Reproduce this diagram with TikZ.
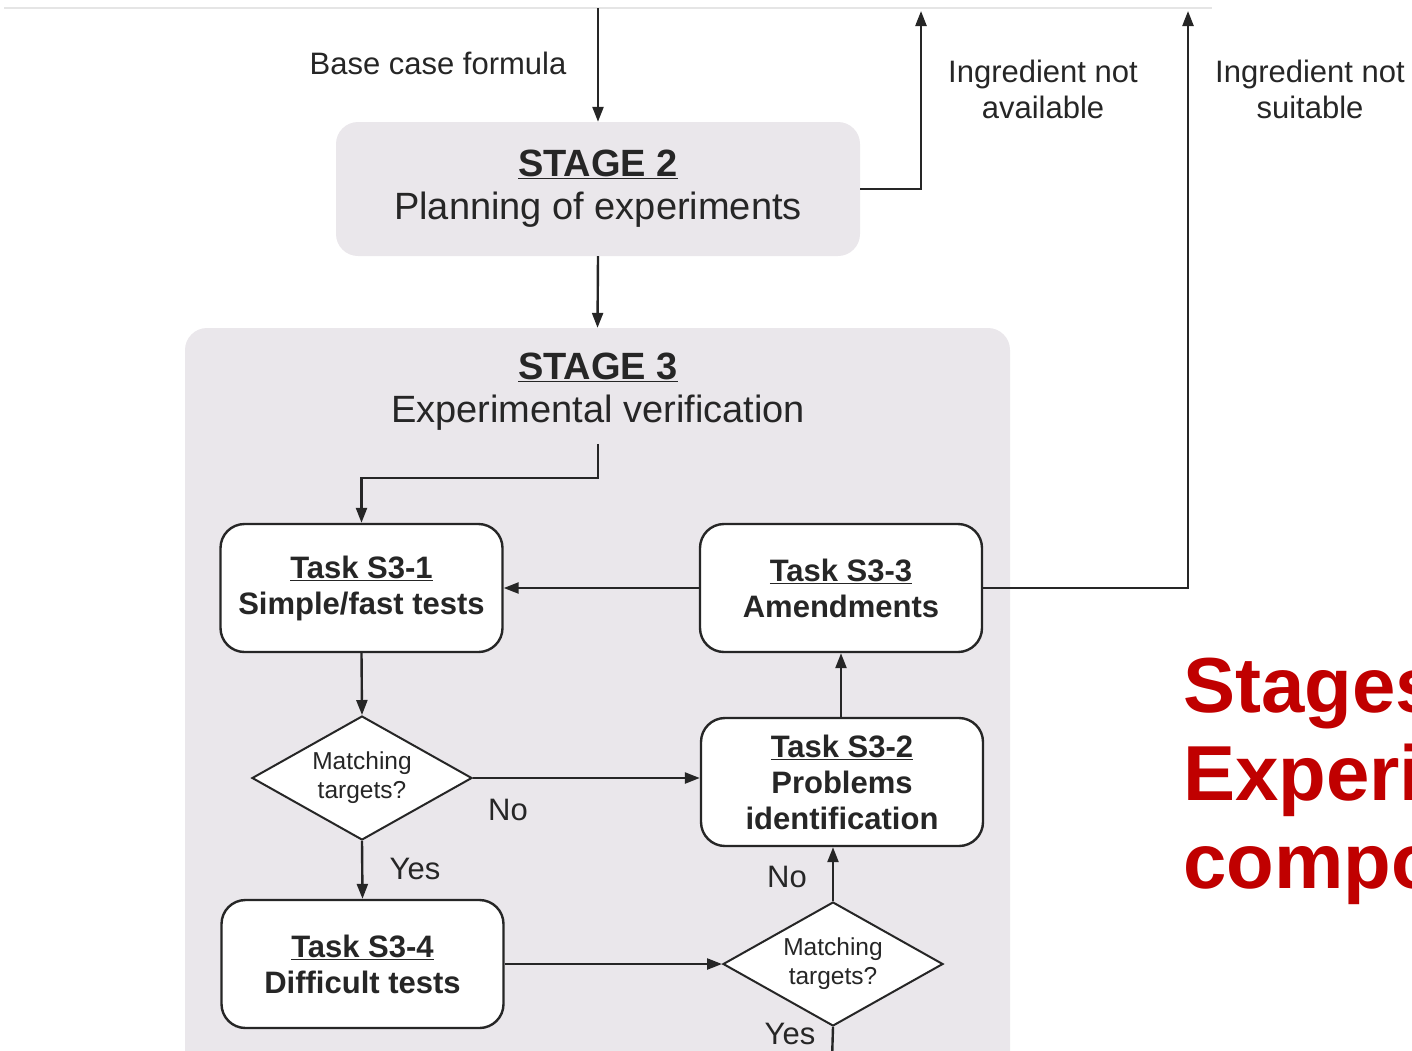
\documentclass[tikz,border=0pt]{standalone}
\usepackage{fontspec}
\setmainfont{Liberation Sans}
\usetikzlibrary{shapes.geometric,arrows.meta,positioning,calc}
\definecolor{stagegray}{HTML}{EAE7EB}
\definecolor{inkdark}{HTML}{262626}
\definecolor{titlered}{HTML}{C00000}

\begin{document}
\begin{tikzpicture}[x=1pt, y=-1pt,
  stage/.style={rectangle, rounded corners=22pt, fill=stagegray, draw=none, align=center,
                text=inkdark, font=\fontsize{38}{43}\selectfont},
  task/.style={rectangle, rounded corners=24pt, draw=inkdark, line width=2.4pt, fill=white,
               minimum width=282pt, minimum height=128pt, align=center,
               font=\fontsize{31}{36}\selectfont\bfseries, text=inkdark},
  decide/.style={diamond, aspect=1.8, draw=inkdark, line width=2pt, fill=white, inner sep=0pt,
                 minimum width=220pt, minimum height=124pt, align=center,
                 font=\fontsize{24.5}{29}\selectfont, text=inkdark},
  note/.style={font=\fontsize{31}{36}\selectfont, text=inkdark, align=center},
  flow/.style={draw=inkdark, line width=2.4pt, -{Triangle[length=15pt,width=11pt]}},
  wire/.style={draw=inkdark, line width=2.4pt},
]
  \useasboundingbox (0,0) rectangle (1412,1050);
  \draw[black!10, line width=2pt] (4,8) -- (1212,8);

  % stages
  \node[stage, minimum width=524pt, minimum height=134pt] (s2) at (598,189)
    {\underline{\textbf{STAGE 2}}\\Planning of experiments};
  \node[stage, minimum width=825pt, minimum height=752pt] (s3) at (597.5,704) {};
  \node[font=\fontsize{38}{43}\selectfont, text=inkdark, align=center, inner sep=4pt] (t3) at (598,392)
    {\underline{\textbf{STAGE 3}}\\Experimental verification};

  % tasks
  \node[task] (s31) at (361.5,588) {\underline{Task S3-1}\\Simple/fast tests};
  \node[task] (s33) at (841,588) {\underline{Task S3-3}\\Amendments};
  \node[task] (s32) at (842,782) {\underline{Task S3-2}\\Problems\\identification};
  \node[task] (s34) at (362.5,964) {\underline{Task S3-4}\\Difficult tests};
  \node[decide] (d1) at (362,778) {Matching\\targets?};
  \node[decide] (d2) at (833,964) {Matching\\targets?};

  % loose ends
  \coordinate (inTop) at (598,8);
  \coordinate (outA) at (921,11);
  \coordinate (outB) at (1188,11);
  \coordinate (outBot) at (832,1060);

  % labels
  \node[note] (base) at (438,63) {Base case formula};
  \node[note] (navail) at (1043,89) {Ingredient not\\available};
  \node[note] (nsuit) at (1310,89) {Ingredient not\\suitable};
  \node[note] (no1) at (508,810) {No};
  \node[note] (yes1) at (415,869) {Yes};
  \node[note] (no2) at (787,877) {No};
  \node[note] (yes2) at (790,1034) {Yes};

  % connectors
  \draw[flow] (inTop) -- (s2.north);
  \draw[flow] (s2.east) -| (outA);
  \draw[flow] (s2.south) -- (s3.north);
  \draw[flow] ([yshift=-9pt]t3.south) -- ++(0,34) -| (s31.north);
  \draw[flow] (s33.west) -- (s31.east);
  \draw[flow] (s33.east) -| (outB);
  \draw[flow] (s31.south) -- (d1.north);
  \draw[flow] (d1.east) -- (s32.west |- d1.east);
  \draw[flow] (s32.north -| s33.south) -- (s33.south);
  \draw[flow] (d1.south) -- (s34.north);
  \draw[flow] (s34.east) -- (d2.west);
  \draw[flow] (d2.north) -- (d2.north |- s32.south);
  \draw[wire] (d2.south) -- (outBot);

  % side caption
  \node[font=\fontsize{78}{89}\selectfont\bfseries, text=titlered, anchor=base west, inner sep=0pt] (cap1) at (1183,712) {Stages};
  \node[font=\fontsize{78}{89}\selectfont\bfseries, text=titlered, anchor=base west, inner sep=0pt] (cap2) at (1183,800) {Experi};
  \node[font=\fontsize{78}{89}\selectfont\bfseries, text=titlered, anchor=base west, inner sep=0pt] (cap3) at (1183,888) {compo};
\end{tikzpicture}
\end{document}
